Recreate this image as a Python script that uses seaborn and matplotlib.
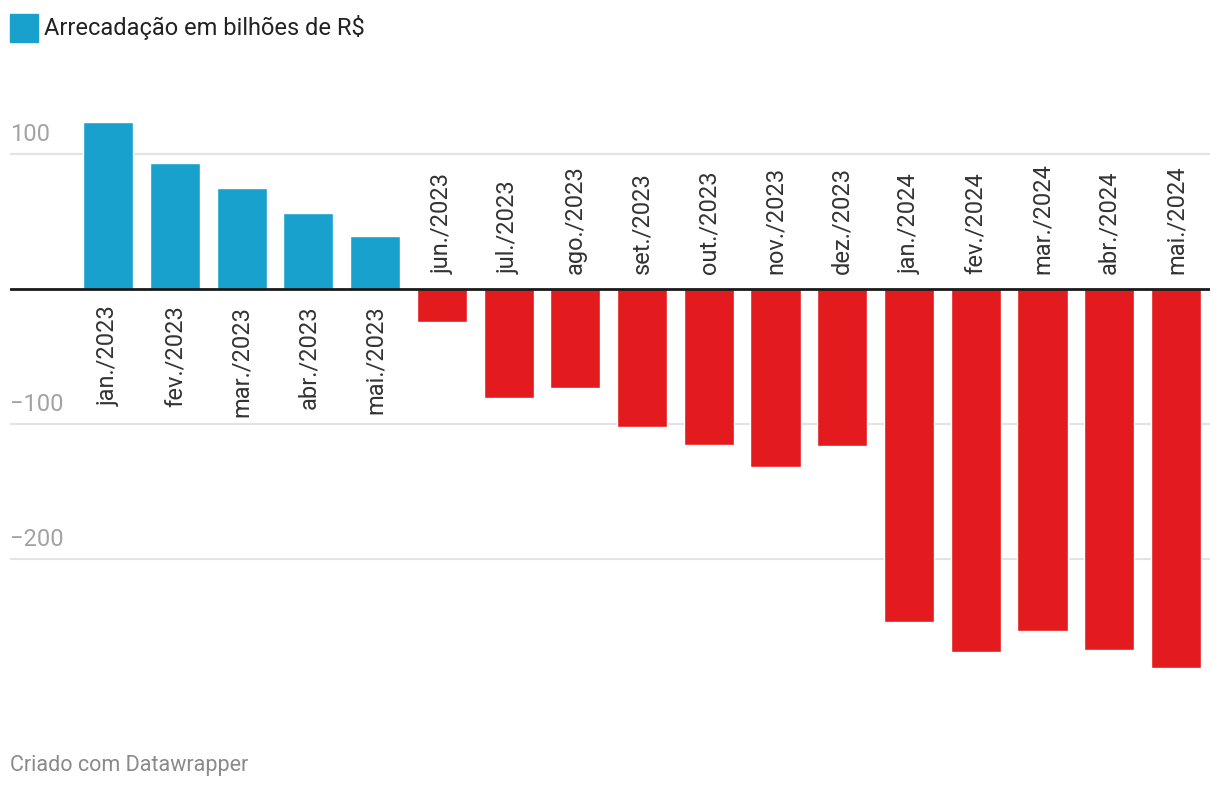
import pandas as pd
import numpy as np
import matplotlib
matplotlib.use("Agg")
import matplotlib.pyplot as plt
import matplotlib.transforms as mtransforms
import seaborn as sns

# data (bilhões de R$)
meses = ["jan./2023", "fev./2023", "mar./2023", "abr./2023", "mai./2023",
         "jun./2023", "jul./2023", "ago./2023", "set./2023", "out./2023",
         "nov./2023", "dez./2023", "jan./2024", "fev./2024", "mar./2024",
         "abr./2024", "mai./2024"]
valores = [123.7, 93.3, 74.8, 56.3, 39.3, -24.4, -80.7, -73.3, -102.2,
           -115.6, -131.9, -116.3, -246.7, -268.9, -253.3, -267.4, -280.7]
y_ticks = [100, -100, -200]

azul = "#18a1cd"
vermelho = "#e31b1e"

df = pd.DataFrame({"mes": meses, "valor": valores})
df["sinal"] = np.where(df["valor"] >= 0, "pos", "neg")

sns.set_style("white")
plt.rcParams["font.family"] = ["Roboto", "DejaVu Sans"]

fig = plt.figure(figsize=(12.2, 7.9), dpi=100)
ax = fig.add_axes([10 / 1220, 1 - 700 / 790, 1200 / 1220, 600 / 790])

sns.barplot(data=df, x="mes", y="valor", hue="sinal", order=meses,
            palette={"pos": azul, "neg": vermelho}, width=0.75,
            dodge=False, legend=False, saturation=1, ax=ax)

ax.set_xlim(-1.47, 16.51)
ax.set_ylim(-304.4, 140)

# grid lines and zero line
for t in y_ticks:
    ax.axhline(t, color="#e3e3e3", lw=1.5, zorder=0)
ax.axhline(0, color="#1a1a1a", lw=2, zorder=3)

# y tick labels sit above the grid lines, at the left edge
trans = mtransforms.blended_transform_factory(ax.transAxes, ax.transData)
for t in y_ticks:
    lab = f"{t}".replace("-", "\u2212")
    ax.annotate(lab, xy=(0, t), xycoords=trans, xytext=(0, 6),
                textcoords="offset points", ha="left", va="bottom",
                fontsize=17, color="#a3a3a3")

# category labels next to the zero line, on the opposite side of the bar
for i, (m, v) in enumerate(zip(meses, valores)):
    if v >= 0:
        ax.annotate(m, xy=(i, 0), xytext=(0, -12), textcoords="offset points",
                    rotation=90, rotation_mode="anchor", ha="right", va="center",
                    fontsize=17, color="#333333")
    else:
        ax.annotate(m, xy=(i, 0), xytext=(0, 11), textcoords="offset points",
                    rotation=90, rotation_mode="anchor", ha="left", va="center",
                    fontsize=17, color="#333333")

ax.set_xticks([])
ax.set_yticks([])
ax.set_xlabel("")
ax.set_ylabel("")
for s in ax.spines.values():
    s.set_visible(False)

# legend square + title
fig.patches.append(plt.Rectangle((10 / 1220, 1 - 42 / 790), 28 / 1220, 28 / 790,
                                 transform=fig.transFigure, color=azul))
fig.text(44 / 1220, 1 - 28 / 790, "Arrecadação em bilhões de R$",
         ha="left", va="center", fontsize=17, color="#222222")

fig.text(10 / 1220, 1 - 765 / 790, "Criado com Datawrapper",
         ha="left", va="center", fontsize=15.5, color="#8a8a8a")

fig.savefig("out.png", dpi=100)
